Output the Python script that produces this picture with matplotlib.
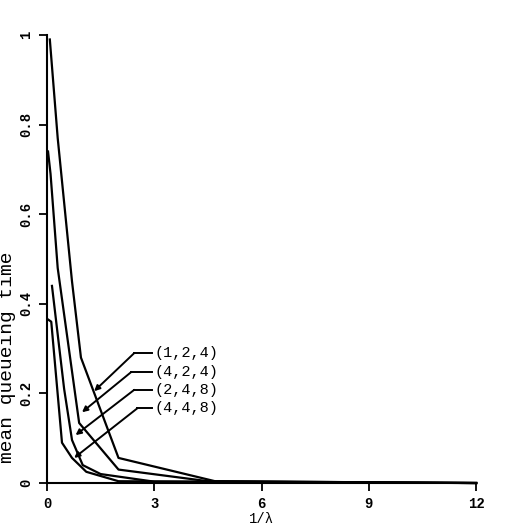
import matplotlib
matplotlib.use("Agg")
import matplotlib.pyplot as plt

plt.rcParams['font.family'] = ['Liberation Mono', 'DejaVu Sans Mono']

# curves: x = 1/lambda, y = mean queueing time
x_124 = [0.08, 0.3, 0.7, 0.95, 2.0, 4.7, 12]
y_124 = [0.99, 0.77, 0.45, 0.28, 0.056, 0.004, 0.0]

x_424 = [0.03, 0.1, 0.3, 0.9, 2.0, 4.5, 12]
y_424 = [0.74, 0.69, 0.48, 0.134, 0.03, 0.004, 0.0]

x_248 = [0.14, 0.48, 0.7, 1.0, 1.5, 3.0, 12]
y_248 = [0.44, 0.21, 0.096, 0.04, 0.02, 0.003, 0.0]

x_448 = [0.03, 0.12, 0.42, 0.7, 1.1, 2.0, 12]
y_448 = [0.365, 0.36, 0.09, 0.056, 0.025, 0.004, 0.0]

labels = ['(1,2,4)', '(4,2,4)', '(2,4,8)', '(4,4,8)']
label_y = [0.29, 0.248, 0.208, 0.167]
elbow_x = [2.44, 2.36, 2.44, 2.53]
arrow_x = [1.32, 0.98, 0.8, 0.76]
arrow_y = [0.205, 0.158, 0.107, 0.056]

xticks = [0, 3, 6, 9, 12]
yticks = [0, 0.2, 0.4, 0.6, 0.8, 1]
ytick_labels = ['0', '0.2', '0.4', '0.6', '0.8', '1']

fig = plt.figure(figsize=(5.05, 5.28), dpi=100)
ax = fig.add_axes([0.093, 0.0852, 0.85, 0.8485])

for xs, ys in [(x_124, y_124), (x_424, y_424), (x_248, y_248), (x_448, y_448)]:
    ax.plot(xs, ys, color='black', lw=1.6, clip_on=False)

# leader lines with arrows
for lab, ly, ex, axx, ayy in zip(labels, label_y, elbow_x, arrow_x, arrow_y):
    ax.plot([ex, 2.95], [ly, ly], color='black', lw=1.4)
    ax.annotate('', xy=(axx, ayy), xytext=(ex, ly),
                arrowprops=dict(arrowstyle='-|>', color='black', lw=1.4,
                                mutation_scale=8, shrinkA=0, shrinkB=0))
    ax.text(3.0, ly, lab, fontsize=11, va='center', ha='left')

ax.set_xlim(0, 12)
ax.set_ylim(0, 1)
ax.spines['top'].set_visible(False)
ax.spines['right'].set_visible(False)
ax.spines['left'].set_linewidth(1.5)
ax.spines['bottom'].set_linewidth(1.5)

ax.set_xticks(xticks)
ax.set_xticklabels([str(t) for t in xticks], fontsize=10, fontweight='bold')
ax.set_yticks(yticks)
ax.set_yticklabels(ytick_labels, fontsize=10, fontweight='bold', rotation=90, va='center')
ax.tick_params(direction='out', length=6, width=1.3, pad=4)

ax.set_xlabel('1/λ', fontsize=10)
ax.xaxis.set_label_coords(0.5, -0.064)
ax.set_ylabel('mean queueing time', fontsize=14)
ax.yaxis.set_label_coords(-0.072, 0.28)

fig.savefig('out.png', dpi=100)
